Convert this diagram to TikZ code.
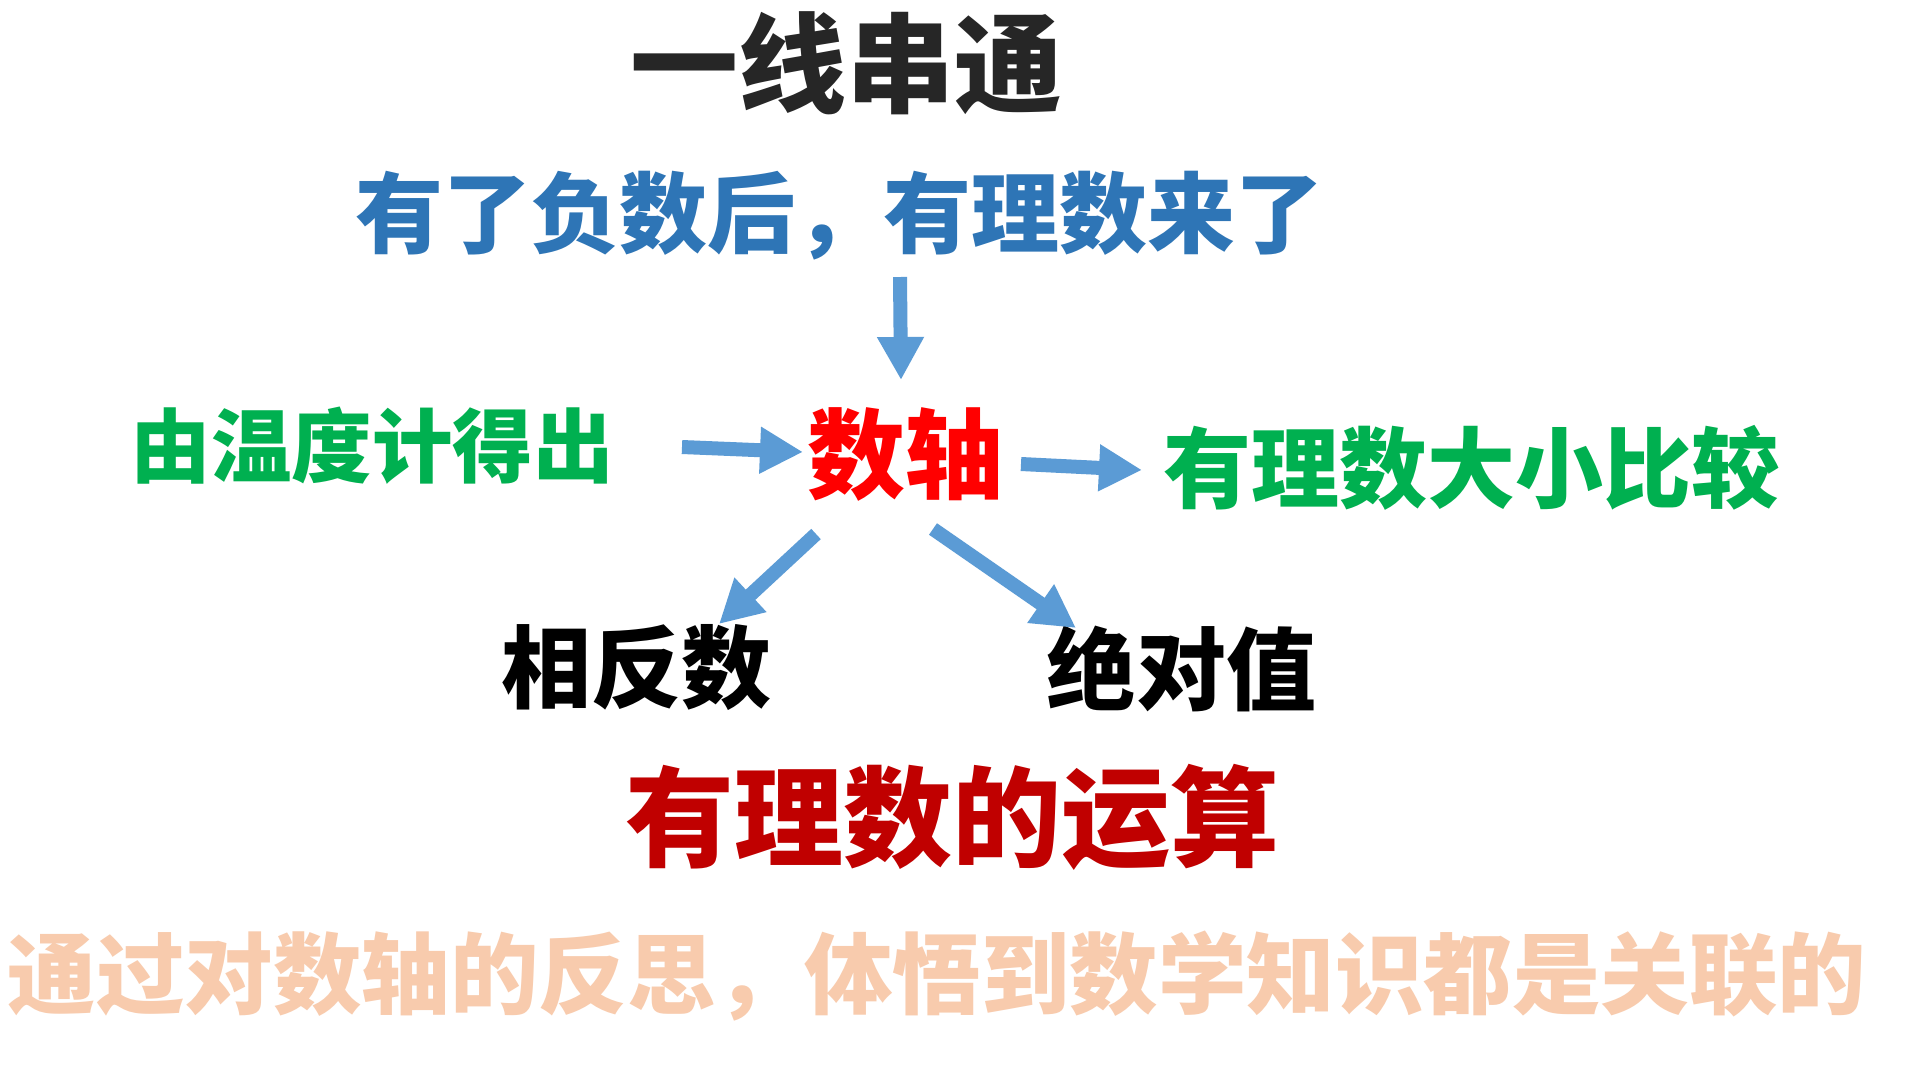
\documentclass[tikz,border=0pt]{standalone}
\usepackage{fontspec}
\newfontfamily\cjk{Noto Sans CJK SC}
\usetikzlibrary{arrows.meta}
\definecolor{titlegray}{HTML}{262626}
\definecolor{bluetext}{HTML}{2E75B6}
\definecolor{arrowblue}{HTML}{5B9BD5}
\definecolor{greentext}{HTML}{00B050}
\definecolor{redtext}{HTML}{FF0000}
\definecolor{darkred}{HTML}{C00000}
\definecolor{peach}{HTML}{F8CBAD}
\tikzset{
  lbl/.style={inner sep=0pt, anchor=center, font=\cjk\bfseries},
  blockarrow/.style={draw=arrowblue, line width=14pt,
    -{Triangle[width=44pt,length=43pt]}, color=arrowblue}
}
\begin{document}
\begin{tikzpicture}[x=1pt,y=-1pt]
\useasboundingbox[fill=white] (0,0) rectangle (1920,1080);
\node[lbl, text=titlegray, font=\cjk\bfseries\fontsize{108}{110}\selectfont] (title) at (846,63) {一线串通};
\node[lbl, text=bluetext, font=\cjk\bfseries\fontsize{88}{90}\selectfont] (neg) at (839,216) {有了负数后，有理数来了};
\node[lbl, text=greentext, font=\cjk\bfseries\fontsize{80.5}{82}\selectfont] (temp) at (372,446) {由温度计得出};
\node[lbl, text=redtext, font=\cjk\bfseries\fontsize{98}{100}\selectfont] (axis) at (905,454) {数轴};
\node[lbl, text=greentext, font=\cjk\bfseries\fontsize{88}{90}\selectfont] (cmp) at (1471,468) {有理数大小比较};
\node[lbl, text=black, font=\cjk\bfseries\fontsize{90}{92}\selectfont] (opp) at (636,668) {相反数};
\node[lbl, text=black, font=\cjk\bfseries\fontsize{90}{92}\selectfont] (abs) at (1181,669) {绝对值};
\node[lbl, text=darkred, font=\cjk\bfseries\fontsize{109}{111}\selectfont] (ops) at (952,817) {有理数的运算};
\node[lbl, text=peach, font=\cjk\bfseries\fontsize{88.5}{90}\selectfont] (note) at (937,976) {通过对数轴的反思，体悟到数学知识都是关联的};
% arrow end points
\coordinate (a1s) at (900,277);
\coordinate (a1e) at (901,380);
\coordinate (a2s) at (682,447);
\coordinate (a2e) at (803,452);
\coordinate (a3s) at (1021,464);
\coordinate (a3e) at (1142,470);
\coordinate (a4s) at (816,534);
\coordinate (a4e) at (719,624);
\coordinate (a5s) at (933,529);
\coordinate (a5e) at (1076,628);
\draw[blockarrow] (a1s) -- (a1e);
\draw[blockarrow] (a2s) -- (a2e);
\draw[blockarrow] (a3s) -- (a3e);
\draw[blockarrow] (a4s) -- (a4e);
\draw[blockarrow] (a5s) -- (a5e);
\end{tikzpicture}
\end{document}
